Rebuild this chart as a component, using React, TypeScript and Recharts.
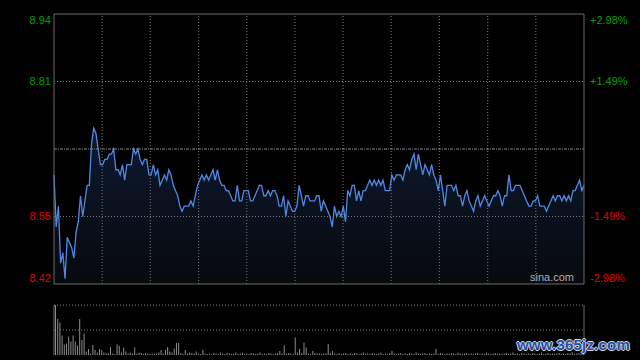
import React from 'react';
import { ComposedChart, Area, Line, XAxis, YAxis, ReferenceLine, BarChart, Bar } from 'recharts';

const prevClose = 8.68;
const priceTicks = [8.42, 8.55, 8.81, 8.94];
const pctTicks = [-2.98, -1.49, 1.49, 2.98];
// vertical grid: 11 equal divisions of the 240-minute session
const gridMinutes = [21.8, 43.6, 65.5, 87.3, 109.1, 130.9, 152.7, 174.5, 196.4, 218.2];

const prices = [
  8.63, 8.53, 8.57, 8.46, 8.48, 8.43, 8.51, 8.50, 8.49, 8.47,
  8.52, 8.54, 8.59, 8.55, 8.58, 8.61, 8.61, 8.69, 8.72, 8.71,
  8.68, 8.65, 8.65, 8.66, 8.66, 8.67, 8.67, 8.68, 8.64, 8.64,
  8.63, 8.65, 8.62, 8.65, 8.65, 8.65, 8.68, 8.67, 8.68, 8.66,
  8.65, 8.66, 8.66, 8.63, 8.63, 8.65, 8.63, 8.64, 8.61, 8.62,
  8.63, 8.62, 8.64, 8.63, 8.61, 8.60, 8.59, 8.57, 8.56, 8.57,
  8.57, 8.57, 8.58, 8.57, 8.59, 8.61, 8.62, 8.63, 8.62, 8.63,
  8.62, 8.63, 8.64, 8.62, 8.64, 8.62, 8.61, 8.61, 8.60, 8.60,
  8.59, 8.58, 8.58, 8.61, 8.58, 8.58, 8.60, 8.60, 8.60, 8.58,
  8.58, 8.59, 8.60, 8.61, 8.61, 8.59, 8.59, 8.60, 8.59, 8.60,
  8.60, 8.59, 8.57, 8.57, 8.59, 8.55, 8.58, 8.57, 8.56, 8.56,
  8.57, 8.61, 8.59, 8.57, 8.59, 8.59, 8.58, 8.58, 8.58, 8.59,
  8.59, 8.56, 8.58, 8.57, 8.56, 8.55, 8.53, 8.57, 8.55, 8.56,
  8.55, 8.57, 8.54, 8.60, 8.59, 8.61, 8.61, 8.58, 8.60, 8.58,
  8.60, 8.60, 8.61, 8.62, 8.61, 8.62, 8.61, 8.62, 8.61, 8.62,
  8.60, 8.60, 8.60, 8.63, 8.62, 8.63, 8.63, 8.63, 8.62, 8.64,
  8.65, 8.64, 8.66, 8.67, 8.64, 8.67, 8.65, 8.63, 8.65, 8.64,
  8.63, 8.65, 8.63, 8.62, 8.60, 8.63, 8.60, 8.57, 8.61, 8.61,
  8.61, 8.60, 8.61, 8.59, 8.59, 8.57, 8.59, 8.60, 8.58, 8.57,
  8.56, 8.58, 8.59, 8.57, 8.58, 8.59, 8.58, 8.57, 8.58, 8.59,
  8.59, 8.60, 8.59, 8.57, 8.59, 8.59, 8.63, 8.60, 8.60, 8.61,
  8.61, 8.61, 8.60, 8.59, 8.58, 8.57, 8.57, 8.58, 8.58, 8.59,
  8.57, 8.57, 8.57, 8.56, 8.57, 8.58, 8.59, 8.58, 8.59, 8.59,
  8.58, 8.59, 8.58, 8.59, 8.58, 8.60, 8.60, 8.61, 8.62, 8.60,
  8.61,
];

// relative volume, 100 = top gridline
const volumes = [
  100, 72, 65, 39, 21, 23, 37, 27, 39, 27,
  19, 72, 30, 43, 7, 12, 3, 20, 10, 5,
  12, 10, 5, 3, 4, 16, 3, 2, 21, 18,
  5, 15, 7, 3, 5, 3, 15, 3, 5, 4,
  2, 4, 3, 2, 3, 2, 3, 5, 10, 3,
  10, 16, 7, 5, 13, 24, 24, 4, 2, 10,
  3, 5, 4, 3, 7, 3, 2, 10, 3, 2,
  3, 2, 4, 3, 2, 5, 3, 2, 4, 3,
  2, 3, 5, 2, 3, 4, 2, 3, 2, 4,
  3, 2, 3, 5, 2, 3, 2, 4, 3, 2,
  3, 4, 8, 3, 19, 3, 4, 3, 2, 35,
  5, 12, 4, 25, 15, 3, 2, 8, 4, 3,
  3, 2, 3, 3, 22, 4, 8, 3, 2, 3,
  2, 3, 4, 2, 3, 2, 4, 3, 2, 3,
  5, 2, 3, 2, 4, 3, 2, 3, 5, 2,
  3, 2, 4, 8, 3, 2, 3, 4, 2, 3,
  2, 4, 3, 2, 5, 3, 2, 3, 4, 2,
  3, 2, 3, 12, 2, 4, 3, 2, 3, 2,
  4, 3, 2, 5, 3, 2, 3, 4, 2, 3,
  2, 3, 4, 2, 3, 2, 5, 3, 2, 3,
  4, 2, 3, 2, 3, 4, 2, 3, 5, 2,
  3, 2, 4, 3, 2, 3, 2, 4, 3, 2,
  3, 5, 2, 3, 4, 2, 3, 2, 3, 4,
  2, 3, 2, 4, 3, 5, 2, 3, 4, 3,
  4,
];

const data = prices.map((p, i) => ({
  minute: i,
  price: p,
  pct: ((p - prevClose) / prevClose) * 100,
  volume: volumes[i],
}));

const GREEN = '#00a000';
const RED = '#e00000';
const FONT = 'Liberation Sans, Arial, sans-serif';

const PriceTick = (props: any) => {
  const { x, y, payload } = props;
  const v = payload.value as number;
  const dy = v === 8.94 ? 6 : v === 8.42 ? -6 : 0;
  return (
    <text x={x} y={y + dy} dy="0.35em" textAnchor="end" fontSize={11} fontFamily={FONT} fill={v > prevClose ? GREEN : RED}>
      {v.toFixed(2)}
    </text>
  );
};

const PctTick = (props: any) => {
  const { x, y, payload } = props;
  const v = payload.value as number;
  const dy = v === 2.98 ? 6 : v === -2.98 ? -6 : 0;
  return (
    <text x={x} y={y + dy} dy="0.35em" textAnchor="start" fontSize={11} fontFamily={FONT} fill={v > 0 ? GREEN : RED}>
      {(v > 0 ? '+' : '') + v.toFixed(2) + '%'}
    </text>
  );
};

export default function App() {
  return (
    <div style={{ position: 'fixed', left: 0, top: 0, width: 640, height: 360, background: '#000', overflow: 'hidden' }}>
      <div style={{ position: 'absolute', left: 0, top: 0 }}>
        <ComposedChart width={640} height={290} data={data} margin={{ top: 14, right: 0, bottom: 6, left: 0 }}>
          <defs>
            <linearGradient id="areaFill" x1="0" y1="0" x2="0" y2="1">
              <stop offset="0%" stopColor="#0e1a30" />
              <stop offset="100%" stopColor="#07090d" />
            </linearGradient>
          </defs>
          <XAxis dataKey="minute" type="number" domain={[0, 240]} hide />
          <YAxis
            yAxisId="price"
            domain={[8.42, 8.94]}
            ticks={priceTicks}
            interval={0}
            allowDataOverflow
            width={54}
            tickSize={0}
            tickMargin={3}
            tickLine={false}
            axisLine={{ stroke: '#6a6a6a' }}
            tick={<PriceTick />}
          />
          <YAxis
            yAxisId="pct"
            orientation="right"
            type="number"
            domain={[-2.98, 2.98]}
            ticks={pctTicks}
            interval={0}
            allowDataOverflow
            width={56}
            tickSize={0}
            tickMargin={6}
            tickLine={false}
            axisLine={{ stroke: '#6a6a6a' }}
            tick={<PctTick />}
          />
          {gridMinutes.map((m) => (
            <ReferenceLine key={m} yAxisId="price" x={m} stroke="#7a7a7a" strokeDasharray="1 2" />
          ))}
          <ReferenceLine yAxisId="price" y={8.81} stroke="#7a7a7a" strokeDasharray="1 2" />
          <ReferenceLine yAxisId="price" y={8.55} stroke="#7a7a7a" strokeDasharray="1 2" />
          <ReferenceLine yAxisId="price" y={prevClose} stroke="#8a8a8a" strokeDasharray="3 1 1 1" />
          <ReferenceLine yAxisId="price" y={8.94} stroke="#6a6a6a" />
          <ReferenceLine yAxisId="price" y={8.42} stroke="#6a6a6a" />
          <Line yAxisId="pct" dataKey="pct" stroke="none" dot={false} activeDot={false} isAnimationActive={false} />
          <Area
            yAxisId="price"
            type="linear"
            dataKey="price"
            stroke="#4f88e6"
            strokeWidth={1.3}
            fill="url(#areaFill)"
            fillOpacity={1}
            dot={false}
            activeDot={false}
            isAnimationActive={false}
          />
        </ComposedChart>
      </div>
      <div style={{ position: 'absolute', left: 530, top: 271, color: '#b0b0b0', fontFamily: FONT, fontSize: 11 }}>sina.com</div>
      <div style={{ position: 'absolute', left: 0, top: 295 }}>
        <BarChart width={640} height={65} data={data} margin={{ top: 10, right: 0, bottom: 5, left: 0 }}>
          <XAxis dataKey="minute" hide />
          <YAxis domain={[0, 100]} width={54} tick={false} tickLine={false} axisLine={{ stroke: '#6a6a6a' }} />
          <YAxis yAxisId="r" orientation="right" domain={[0, 100]} width={56} tick={false} tickLine={false} axisLine={{ stroke: '#6a6a6a' }} />
          <ReferenceLine y={100} stroke="#7a7a7a" strokeDasharray="1 2" />
          <ReferenceLine y={50} stroke="#7a7a7a" strokeDasharray="1 2" />
          <Bar dataKey="volume" fill="#8c8c8c" barSize={1} isAnimationActive={false} />
        </BarChart>
      </div>
      <div
        style={{
          position: 'absolute',
          left: 517,
          top: 336,
          fontFamily: FONT,
          fontWeight: 'bold',
          fontSize: 15,
          letterSpacing: 0.2,
          color: '#2650a6',
          textShadow: '1px 0 #cfd6e0, -1px 0 #cfd6e0, 0 1px #cfd6e0, 0 -1px #cfd6e0',
        }}
      >
        www.365jz.com
      </div>
    </div>
  );
}
